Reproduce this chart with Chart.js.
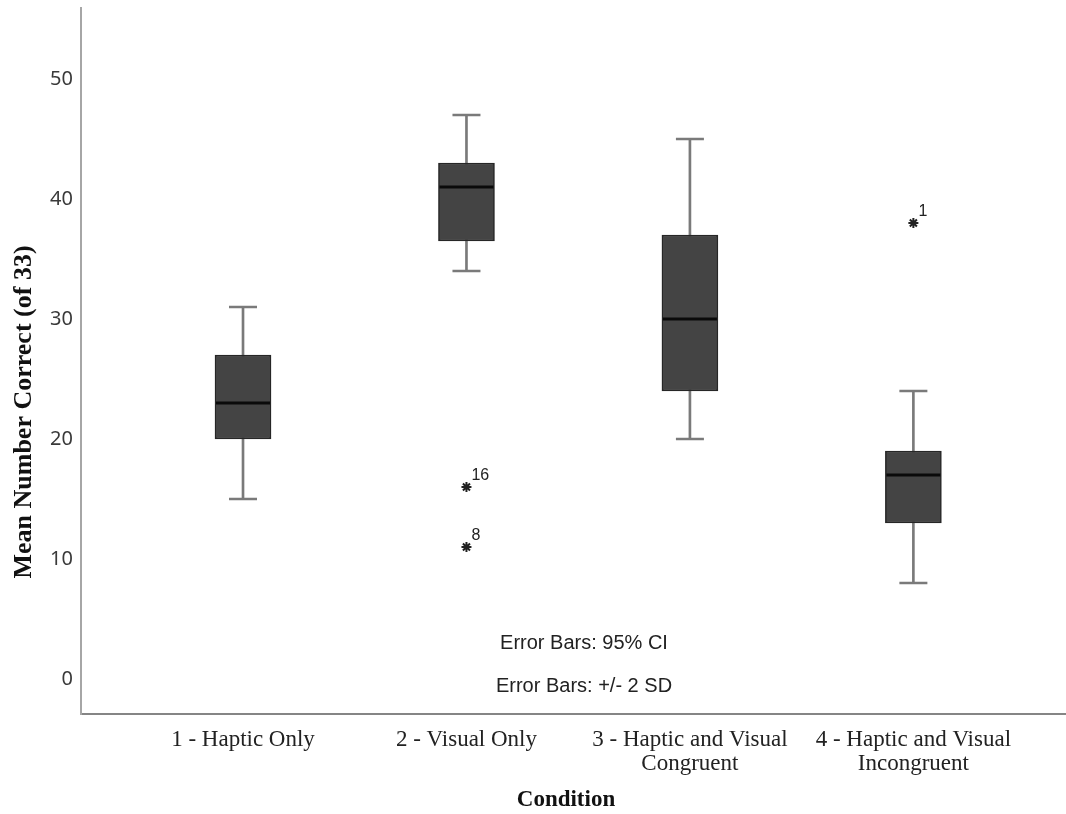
<!DOCTYPE html>
<html>
<head>
<meta charset="utf-8">
<script src="https://cdn.jsdelivr.net/npm/chart.js@4.4.1/dist/chart.umd.min.js"></script>
<style>
  html, body { margin: 0; padding: 0; background: #fff; }
  #wrap { width: 1066px; height: 814px; position: relative; }
</style>
</head>
<body>
<div id="wrap"><canvas id="chart" width="1066" height="814"></canvas></div>
<script>
// condition groups and their box plot summaries
const conditions = ['1 - Haptic Only', '2 - Visual Only', '3 - Haptic and Visual Congruent', '4 - Haptic and Visual Incongruent'];
const tickLabels = [['1 - Haptic Only'], ['2 - Visual Only'], ['3 - Haptic and Visual', 'Congruent'], ['4 - Haptic and Visual', 'Incongruent']];
const whiskerLow = [15, 34, 20, 8];
const q1 = [20, 36.5, 24, 13];
const median = [23, 41, 30, 17];
const q3 = [27, 43, 37, 19];
const whiskerHigh = [31, 47, 45, 24];

// extreme values (case numbers shown beside the star)
const outlierGroup = [2, 2, 4];
const outlierValues = [16, 11, 38];
const outlierCases = ['16', '8', '1'];

const yTicks = [0, 10, 20, 30, 40, 50];

const pos = (i) => i + 1;

const outlierLabels = {
  id: 'outlierLabels',
  afterDatasetsDraw(chart) {
    const { ctx, scales: { x, y } } = chart;
    ctx.save();
    ctx.fillStyle = '#222';
    ctx.font = '16px "Liberation Sans", Arial, sans-serif';
    ctx.textAlign = 'left';
    ctx.textBaseline = 'alphabetic';
    outlierValues.forEach((v, i) => {
      ctx.fillText(outlierCases[i], x.getPixelForValue(outlierGroup[i]) + 5, y.getPixelForValue(v) - 7);
    });
    ctx.restore();
  },
};

const captions = {
  id: 'captions',
  afterDraw(chart) {
    const { ctx } = chart;
    ctx.save();
    ctx.fillStyle = '#222';
    ctx.textAlign = 'center';
    ctx.textBaseline = 'middle';
    ctx.font = '20px "Liberation Sans", Arial, sans-serif';
    ctx.fillText('Error Bars: 95% CI', 584, 643);
    ctx.fillText('Error Bars: +/- 2 SD', 584, 686);

    ctx.fillStyle = '#111';
    ctx.font = 'bold 23px "Liberation Serif", "Times New Roman", serif';
    ctx.fillText('Condition', 566, 800);

    ctx.font = 'bold 26px "Liberation Serif", "Times New Roman", serif';
    ctx.translate(24, 412);
    ctx.rotate(-Math.PI / 2);
    ctx.fillText('Mean Number Correct (of 33)', 0, 0);
    ctx.restore();
  },
};

new Chart(document.getElementById('chart'), {
  type: 'bar',
  data: {
    datasets: [
      {
        label: 'whiskers',
        data: conditions.map((c, i) => ({ x: pos(i), y: [whiskerLow[i], whiskerHigh[i]] })),
        backgroundColor: '#7a7a7a',
        borderWidth: 0,
        barThickness: 2,
        grouped: false,
        order: 3,
      },
      {
        label: 'boxes',
        data: conditions.map((c, i) => ({ x: pos(i), y: [q1[i], q3[i]] })),
        backgroundColor: '#444444',
        borderColor: '#262626',
        borderWidth: 1.5,
        borderSkipped: false,
        barThickness: 56,
        grouped: false,
        order: 2,
      },
      {
        type: 'scatter',
        label: 'caps',
        data: conditions.flatMap((c, i) => [{ x: pos(i), y: whiskerLow[i] }, { x: pos(i), y: whiskerHigh[i] }]),
        pointStyle: 'line',
        pointRadius: 14,
        borderColor: '#7a7a7a',
        borderWidth: 2.5,
        order: 1,
      },
      {
        type: 'scatter',
        label: 'median',
        data: conditions.map((c, i) => ({ x: pos(i), y: median[i] })),
        pointStyle: 'line',
        pointRadius: 27,
        borderColor: '#0a0a0a',
        borderWidth: 3,
        order: 0,
      },
      {
        type: 'scatter',
        label: 'extremes',
        data: outlierValues.map((v, i) => ({ x: outlierGroup[i], y: v })),
        pointStyle: 'star',
        pointRadius: 5,
        borderColor: '#222',
        borderWidth: 2,
        order: 0,
      },
    ],
  },
  options: {
    responsive: false,
    animation: false,
    events: [],
    layout: { autoPadding: false, padding: { top: 8, left: 0, right: 0, bottom: 0 } },
    plugins: {
      legend: { display: false },
      tooltip: { enabled: false },
    },
    scales: {
      x: {
        type: 'linear',
        min: 0.275,
        max: 4.683,
        offset: false,
        afterFit(scale) {
          scale.height = 100;
          scale.paddingLeft = 0;
          scale.paddingRight = 0;
        },
        afterBuildTicks(scale) { scale.ticks = conditions.map((c, i) => ({ value: pos(i) })); },
        grid: { display: false, drawTicks: false },
        border: { display: true, color: '#858585', width: 2 },
        ticks: {
          autoSkip: false,
          maxRotation: 0,
          padding: 14,
          color: '#222',
          font: { family: '"Liberation Serif", "Times New Roman", serif', size: 23, lineHeight: 1.05 },
          callback: (value) => tickLabels[value - 1] || '',
        },
      },
      y: {
        min: -2.917,
        max: 55.917,
        afterFit(scale) {
          scale.width = 81;
          scale.paddingTop = 0;
          scale.paddingBottom = 0;
        },
        afterBuildTicks(scale) { scale.ticks = yTicks.map((v) => ({ value: v })); },
        grid: { display: false, drawTicks: false },
        border: { display: true, color: '#a6a6a6', width: 2 },
        ticks: {
          padding: 8,
          color: '#3a3a3a',
          font: { family: '"Noto Sans", "Open Sans", sans-serif', size: 20 },
        },
      },
    },
  },
  plugins: [outlierLabels, captions],
});
</script>
</body>
</html>
